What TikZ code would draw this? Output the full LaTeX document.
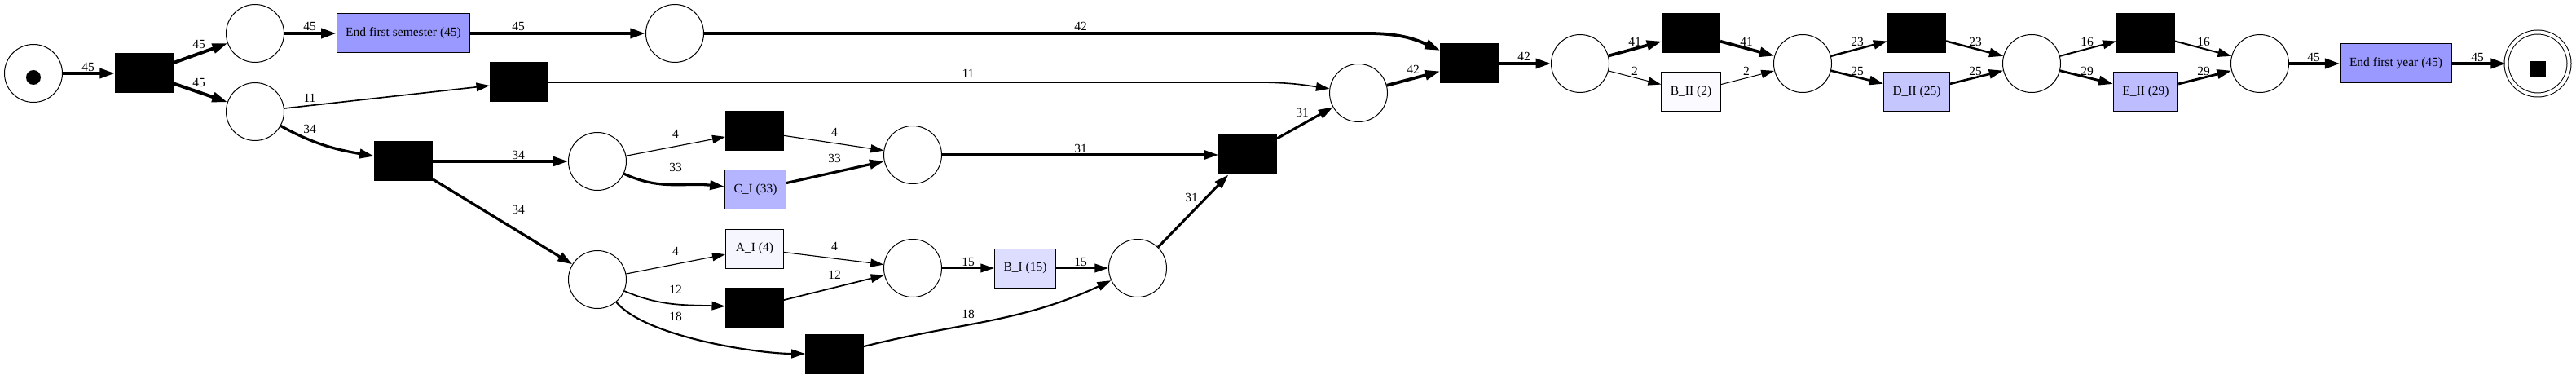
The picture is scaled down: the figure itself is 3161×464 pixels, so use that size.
\documentclass[tikz,border=0pt]{standalone}
\usepackage{fontspec}
\setmainfont{Liberation Serif}
\definecolor{freqmax}{RGB}{153,153,255}
\definecolor{freqci}{RGB}{180,180,255}
\definecolor{freqbi}{RGB}{221,221,255}
\definecolor{freqai}{RGB}{246,246,255}
\definecolor{freqbii}{RGB}{250,250,255}
\definecolor{freqdii}{RGB}{198,198,255}
\definecolor{freqeii}{RGB}{189,189,255}
\usetikzlibrary{arrows.meta, positioning}

\begin{document}
\begin{tikzpicture}[x=1pt, y=1pt,
  place/.style={draw, circle, line width=1pt, minimum size=71pt, inner sep=0pt},
  trans/.style={draw, fill=black, line width=1pt, minimum width=71pt, minimum height=48pt, inner sep=0pt},
  act/.style={draw, line width=1pt, minimum width=71pt, minimum height=48pt, inner xsep=11pt, font=\fontsize{15.5}{18}\selectfont},
  flow/.style={-{Triangle[length=15pt 0.9, width=9.5pt 0.6]}, line width={1pt+3pt*(#1-2)/43}},
  lbl/.style={inner sep=0pt, font=\fontsize{15.5}{18}\selectfont}
]
  \useasboundingbox (0,0) rectangle (3161,464);

  % places and transitions
  \node[place] (src) at (41,374) {};
  \fill ([yshift=-5pt]src.center) circle (9pt);
  \node[trans] (t1) at (177,374) {};
  \node[place] (p1) at (313,423) {};
  \node[place] (p2) at (313,327) {};
  \node[act, fill=freqmax] (efs) at (495,423) {End first semester (45)};
  \node[trans] (tskip) at (637,363) {};
  \node[trans] (t2) at (495,266) {};
  \node[place] (p3) at (828,423) {};
  \node[place] (p4) at (733,266) {};
  \node[trans] (t3) at (926,303) {};
  \node[act, fill=freqci] (ci) at (927,231) {C\_I (33)};
  \node[place] (p5) at (1120,274) {};
  \node[act, fill=freqai] (ai) at (926,159) {A\_I (4)};
  \node[trans] (t4) at (926,87) {};
  \node[place] (p6) at (733,121) {};
  \node[place] (p7) at (1120,135) {};
  \node[act, fill=freqbi] (bi) at (1258,135) {B\_I (15)};
  \node[trans] (t5) at (1024,30) {};
  \node[place] (p8) at (1396,135) {};
  \node[trans] (t6) at (1531,274) {};
  \node[place] (p9) at (1667,350) {};
  \node[trans] (t7) at (1803,386) {};
  \node[place] (p10) at (1939,386) {};
  \node[trans] (t8) at (2075,423) {};
  \node[act, fill=freqbii] (bii) at (2075,351) {B\_II (2)};
  \node[place] (p11) at (2212,386) {};
  \node[trans] (t9) at (2352,423) {};
  \node[act, fill=freqdii] (dii) at (2352,351) {D\_II (25)};
  \node[place] (p12) at (2493,386) {};
  \node[trans] (t10) at (2633,423) {};
  \node[act, fill=freqeii] (eii) at (2633,351) {E\_II (29)};
  \node[place] (p13) at (2773,386) {};
  \node[act, fill=freqmax] (efy) at (2940,386) {End first year (45)};
  \node[draw, circle, double, double distance=4pt, line width=1pt, minimum size=77pt, inner sep=0pt] (sink) at (3114,386) {};
  \fill ([yshift=-7pt]sink.center) ++(-10pt,-10pt) rectangle ++(20pt,20pt);

  % arcs
  \draw[flow=45] (src) -- (t1) node[lbl] at (108,382) {45};
  \draw[flow=45] (t1) -- (p1) node[lbl] at (244,410) {45};
  \draw[flow=45] (t1) -- (p2) node[lbl] at (244,363) {45};
  \draw[flow=45] (p1) -- (efs) node[lbl] at (380,432) {45};
  \draw[flow=45] (efs) -- (p3) node[lbl] at (636,432) {45};
  \draw[flow=11] (p2) -- (tskip) node[lbl] at (380,344) {11};
  \draw[flow=34] (p2) to[out=-29, in=170] (t2) node[lbl] at (380,306) {34};
  \draw[flow=34] (t2) -- (p4) node[lbl] at (636,274) {34};
  \draw[flow=34] (t2) -- (p6) node[lbl] at (636,207) {34};
  \draw[flow=42] (p3) -- (1680,423) .. controls (1725,423) and (1745,412) .. (t7) node[lbl] at (1326,432) {42};
  \draw[flow=11] (tskip) -- (1541,363) .. controls (1585,363) and (1605,359) .. (p9) node[lbl] at (1188,374) {11};
  \draw[flow=4] (p4) -- (t3) node[lbl] at (829,300) {4};
  \draw[flow=33] (p4) to[out=-25, in=174] (ci) node[lbl] at (829,259) {33};
  \draw[flow=4] (t3) -- (p5) node[lbl] at (1024,302) {4};
  \draw[flow=33] (ci) -- (p5) node[lbl] at (1024,270) {33};
  \draw[flow=31] (p5) -- (t6) node[lbl] at (1326,282) {31};
  \draw[flow=4] (p6) -- (ai) node[lbl] at (829,156) {4};
  \draw[flow=12] (p6) to[out=-23, in=178] (t4) node[lbl] at (829,109) {12};
  \draw[flow=18] (p6) to[out=-50, in=180, looseness=0.6] (t5) node[lbl] at (829,76) {18};
  \draw[flow=4] (ai) -- (p7) node[lbl] at (1024,162) {4};
  \draw[flow=12] (t4) -- (p7) node[lbl] at (1024,127) {12};
  \draw[flow=15] (p7) -- (bi) node[lbl] at (1188,143) {15};
  \draw[flow=15] (bi) -- (p8) node[lbl] at (1326,143) {15};
  \draw[flow=18] (t5) to[out=14, in=205] (p8) node[lbl] at (1188,79) {18};
  \draw[flow=31] (p8) -- (t6) node[lbl] at (1462,222) {31};
  \draw[flow=31] (t6) -- (p9) node[lbl] at (1598,326) {31};
  \draw[flow=42] (p9) -- (t7) node[lbl] at (1734,379) {42};
  \draw[flow=42] (t7) -- (p10) node[lbl] at (1870,395) {42};
  \draw[flow=41] (p10) -- (t8) node[lbl] at (2006,413) {41};
  \draw[flow=2] (p10) -- (bii) node[lbl] at (2006,377) {2};
  \draw[flow=41] (t8) -- (p11) node[lbl] at (2143,413) {41};
  \draw[flow=2] (bii) -- (p11) node[lbl] at (2143,377) {2};
  \draw[flow=23] (p11) -- (t9) node[lbl] at (2279,413) {23};
  \draw[flow=25] (p11) -- (dii) node[lbl] at (2279,377) {25};
  \draw[flow=23] (t9) -- (p12) node[lbl] at (2424,413) {23};
  \draw[flow=25] (dii) -- (p12) node[lbl] at (2424,377) {25};
  \draw[flow=16] (p12) -- (t10) node[lbl] at (2561,413) {16};
  \draw[flow=29] (p12) -- (eii) node[lbl] at (2561,377) {29};
  \draw[flow=16] (t10) -- (p13) node[lbl] at (2704,413) {16};
  \draw[flow=29] (eii) -- (p13) node[lbl] at (2704,377) {29};
  \draw[flow=45] (p13) -- (efy) node[lbl] at (2839,394) {45};
  \draw[flow=45] (efy) -- (sink) node[lbl] at (3040,394) {45};
\end{tikzpicture}
\end{document}
